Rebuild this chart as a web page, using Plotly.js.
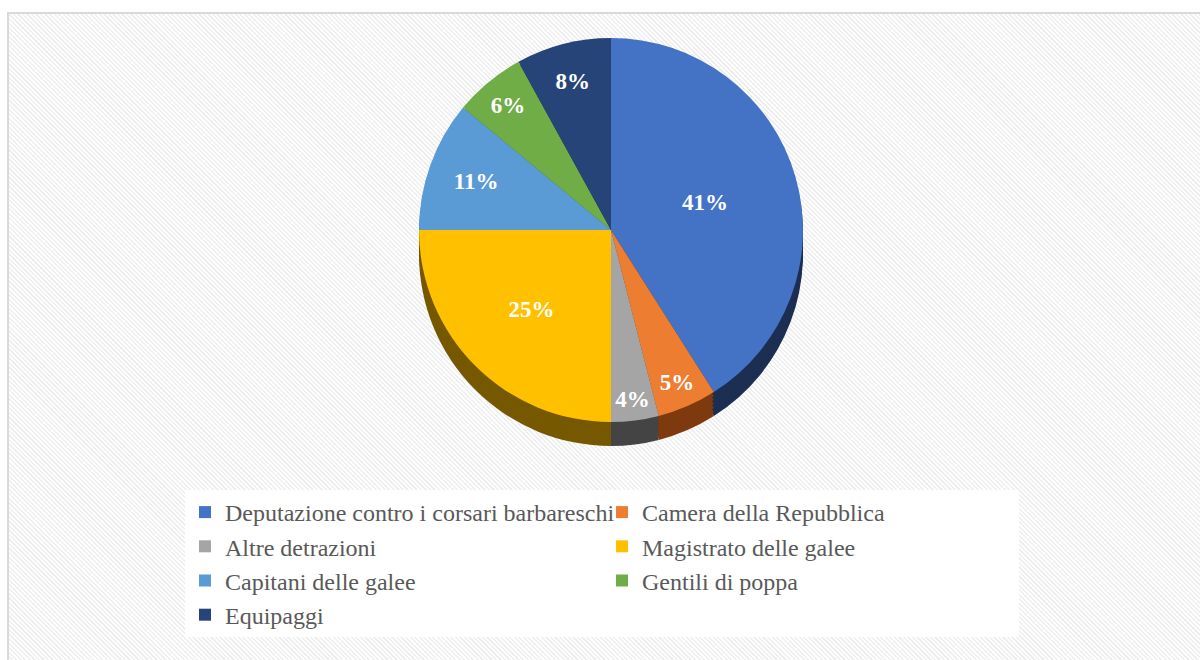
<!DOCTYPE html>
<html>
<head>
<meta charset="utf-8">
<script src="https://cdn.plot.ly/plotly-3.0.1.min.js"></script>
<style>
  html, body { margin:0; padding:0; width:1200px; height:660px; overflow:hidden; background:#ffffff; }
  #frame { position:absolute; left:7px; top:12px; width:1300px; height:800px;
    border:2px solid #d9d9d9;
    background: repeating-linear-gradient(45deg, #ffffff 0px, #ffffff 1.6px, #efefef 1.6px, #efefef 3.2px); }
  #chart { position:absolute; left:0; top:0; width:1200px; height:660px; }
</style>
</head>
<body>
<div id="frame"></div>
<div id="chart"></div>
<script>
const categories = [
  "Deputazione contro i corsari barbareschi",
  "Camera della Repubblica",
  "Altre detrazioni",
  "Magistrato delle galee",
  "Capitani delle galee",
  "Gentili di poppa",
  "Equipaggi"
];
const shares = [41, 5, 4, 25, 11, 6, 8];
const topColors  = ["#4472C4", "#ED7D31", "#A5A5A5", "#FFC000", "#5B9BD5", "#70AD47", "#264478"];
const sideColors = ["#1C2E52", "#7E3A0E", "#444444", "#765800", "#2E5E8C", "#3E6B25", "#15264A"];

const W = 1200, H = 660;
const cx = 611, cy = 230, r = 192, depth = 24;
const SERIF = "Liberation Serif";

function domainFor(offset) {
  return {
    x: [(cx - 260) / W, (cx + 260) / W],
    y: [1 - (cy + r + offset) / H, 1 - (cy - r + offset) / H]
  };
}

const traces = [];
for (let d = depth; d > 0; d -= 4) {
  traces.push({
    type: "pie",
    labels: categories,
    values: shares,
    sort: false,
    direction: "clockwise",
    rotation: 0,
    domain: domainFor(d),
    marker: { colors: sideColors, line: { width: 0 } },
    textinfo: "none",
    hoverinfo: "skip",
    showlegend: false
  });
}
traces.push({
  type: "pie",
  labels: categories,
  values: shares,
  sort: false,
  direction: "clockwise",
  rotation: 0,
  domain: domainFor(0),
  marker: { colors: topColors, line: { width: 0 } },
  textinfo: "percent",
  textposition: "inside",
  insidetextorientation: "horizontal",
  textfont: { family: SERIF, size: 23, color: "#ffffff", weight: "bold" },
  hoverinfo: "label+percent",
  showlegend: true
});

const layout = {
  width: W, height: H,
  margin: { l: 0, r: 0, t: 0, b: 0 },
  paper_bgcolor: "rgba(0,0,0,0)",
  plot_bgcolor: "rgba(0,0,0,0)",
  uniformtext: { mode: "show", minsize: 23 },
  font: { family: SERIF, color: "#595959" },
  showlegend: true,
  legend: {
    orientation: "h",
    x: 185 / W, xanchor: "left",
    y: 1 - 490 / H, yanchor: "top",
    bgcolor: "#ffffff",
    borderwidth: 0,
    entrywidth: 372,
    entrywidthmode: "pixels",
    traceorder: "normal",
    font: { family: SERIF, size: 24, color: "#595959" }
  }
};

Plotly.newPlot("chart", traces, layout, { displayModeBar: false, staticPlot: true });
</script>
</body>
</html>
